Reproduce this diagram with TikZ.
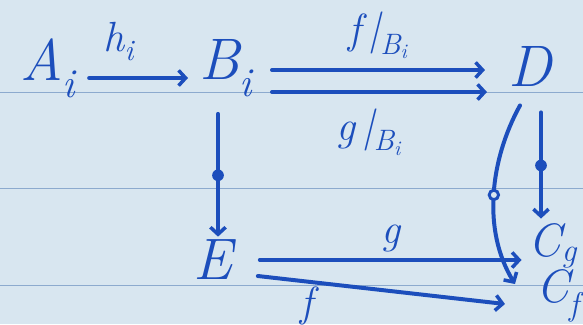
\documentclass[tikz,border=0pt]{standalone}
\usetikzlibrary{arrows.meta, positioning, calc}
\usepackage{xcolor}
\definecolor{notepaper}{RGB}{216, 230, 240}
\definecolor{noterule}{RGB}{140, 170, 206}
\definecolor{inkblue}{RGB}{28, 78, 188}
\newcommand{\lowtext}[1]{\textsubscript{#1}}

\begin{document}
\begin{tikzpicture}[
        x=0.03cm, y=-0.03cm,
        ink/.style={draw=inkblue, line width=3.4pt, line cap=round},
        arr/.style={ink, -{Straight Barb[length=6pt, width=13pt, line width=3pt]}},
        obj/.style={text=inkblue, font=\fontsize{50}{58}\selectfont\itshape, inner sep=1pt},
        cobj/.style={obj, font=\fontsize{40}{46}\selectfont\itshape},
        lbl/.style={text=inkblue, font=\fontsize{36}{42}\selectfont\itshape, inner sep=1pt},
        dotmark/.style={circle, fill=inkblue, inner sep=0pt, minimum size=10pt},
        ringmark/.style={circle, draw=inkblue, line width=2.5pt, fill=notepaper, inner sep=0pt, minimum size=8pt}
      ]
        \fill[notepaper] (0,0) rectangle (583,324);
        \useasboundingbox (0,0) rectangle (583,324);
        \foreach \y in {92, 188, 285}
          \draw[noterule, line width=0.7pt] (0,\y) -- (583,\y);

        \node[obj] (A) at (48,68) {A\lowtext{i}};
        \node[obj] (B) at (226,68) {B\lowtext{i}};
        \node[obj] (D) at (530,66) {D};
        \node[obj] (E) at (213,260) {E};
        \node[cobj] (Cg) at (553,246) {C\lowtext{g}};
        \node[cobj] (Cf) at (558,296) {C\lowtext{f}};

        \draw[arr] ([shift={(12,10)}]A.east) -- ([shift={(-10,10)}]B.west)
          node[lbl, pos=0.3, above=12pt] {h\lowtext{i}};
        \draw[arr] ([shift={(18,2)}]B.east) -- ([shift={(-22,4)}]D.west)
          node[lbl, midway, above=7pt] {f\,|\lowtext{B\lowtext{i}}};
        \draw[arr] ([shift={(18,24)}]B.east) -- ([shift={(-20,26)}]D.west)
          node[lbl, pos=0.45, below=12pt] {g\,|\lowtext{B\lowtext{i}}};
        \draw[arr] ([shift={(-8,16)}]B.south) -- ([shift={(5,-2)}]E.north)
          node[dotmark, midway] {};
        \draw[arr] ([shift={(11,25)}]D.south) -- ([shift={(-12,-4)}]Cg.north)
          node[dotmark, midway] {};
        \draw[arr] ([shift={(-10,18)}]D.south) .. controls (490,160) and (482,230) .. ([shift={(-20,-12)}]Cf.west)
          node[ringmark, pos=0.5] {};
        \draw[arr] ([shift={(26,0)}]E.east) -- ([shift={(-6,14)}]Cg.west)
          node[lbl, pos=0.5, above=4pt] {g};
        \draw[arr] ([shift={(24,16)}]E.east) -- ([shift={(-30,8)}]Cf.west)
          node[lbl, pos=0.2, below=2pt] {f};
      \end{tikzpicture}
\end{document}
